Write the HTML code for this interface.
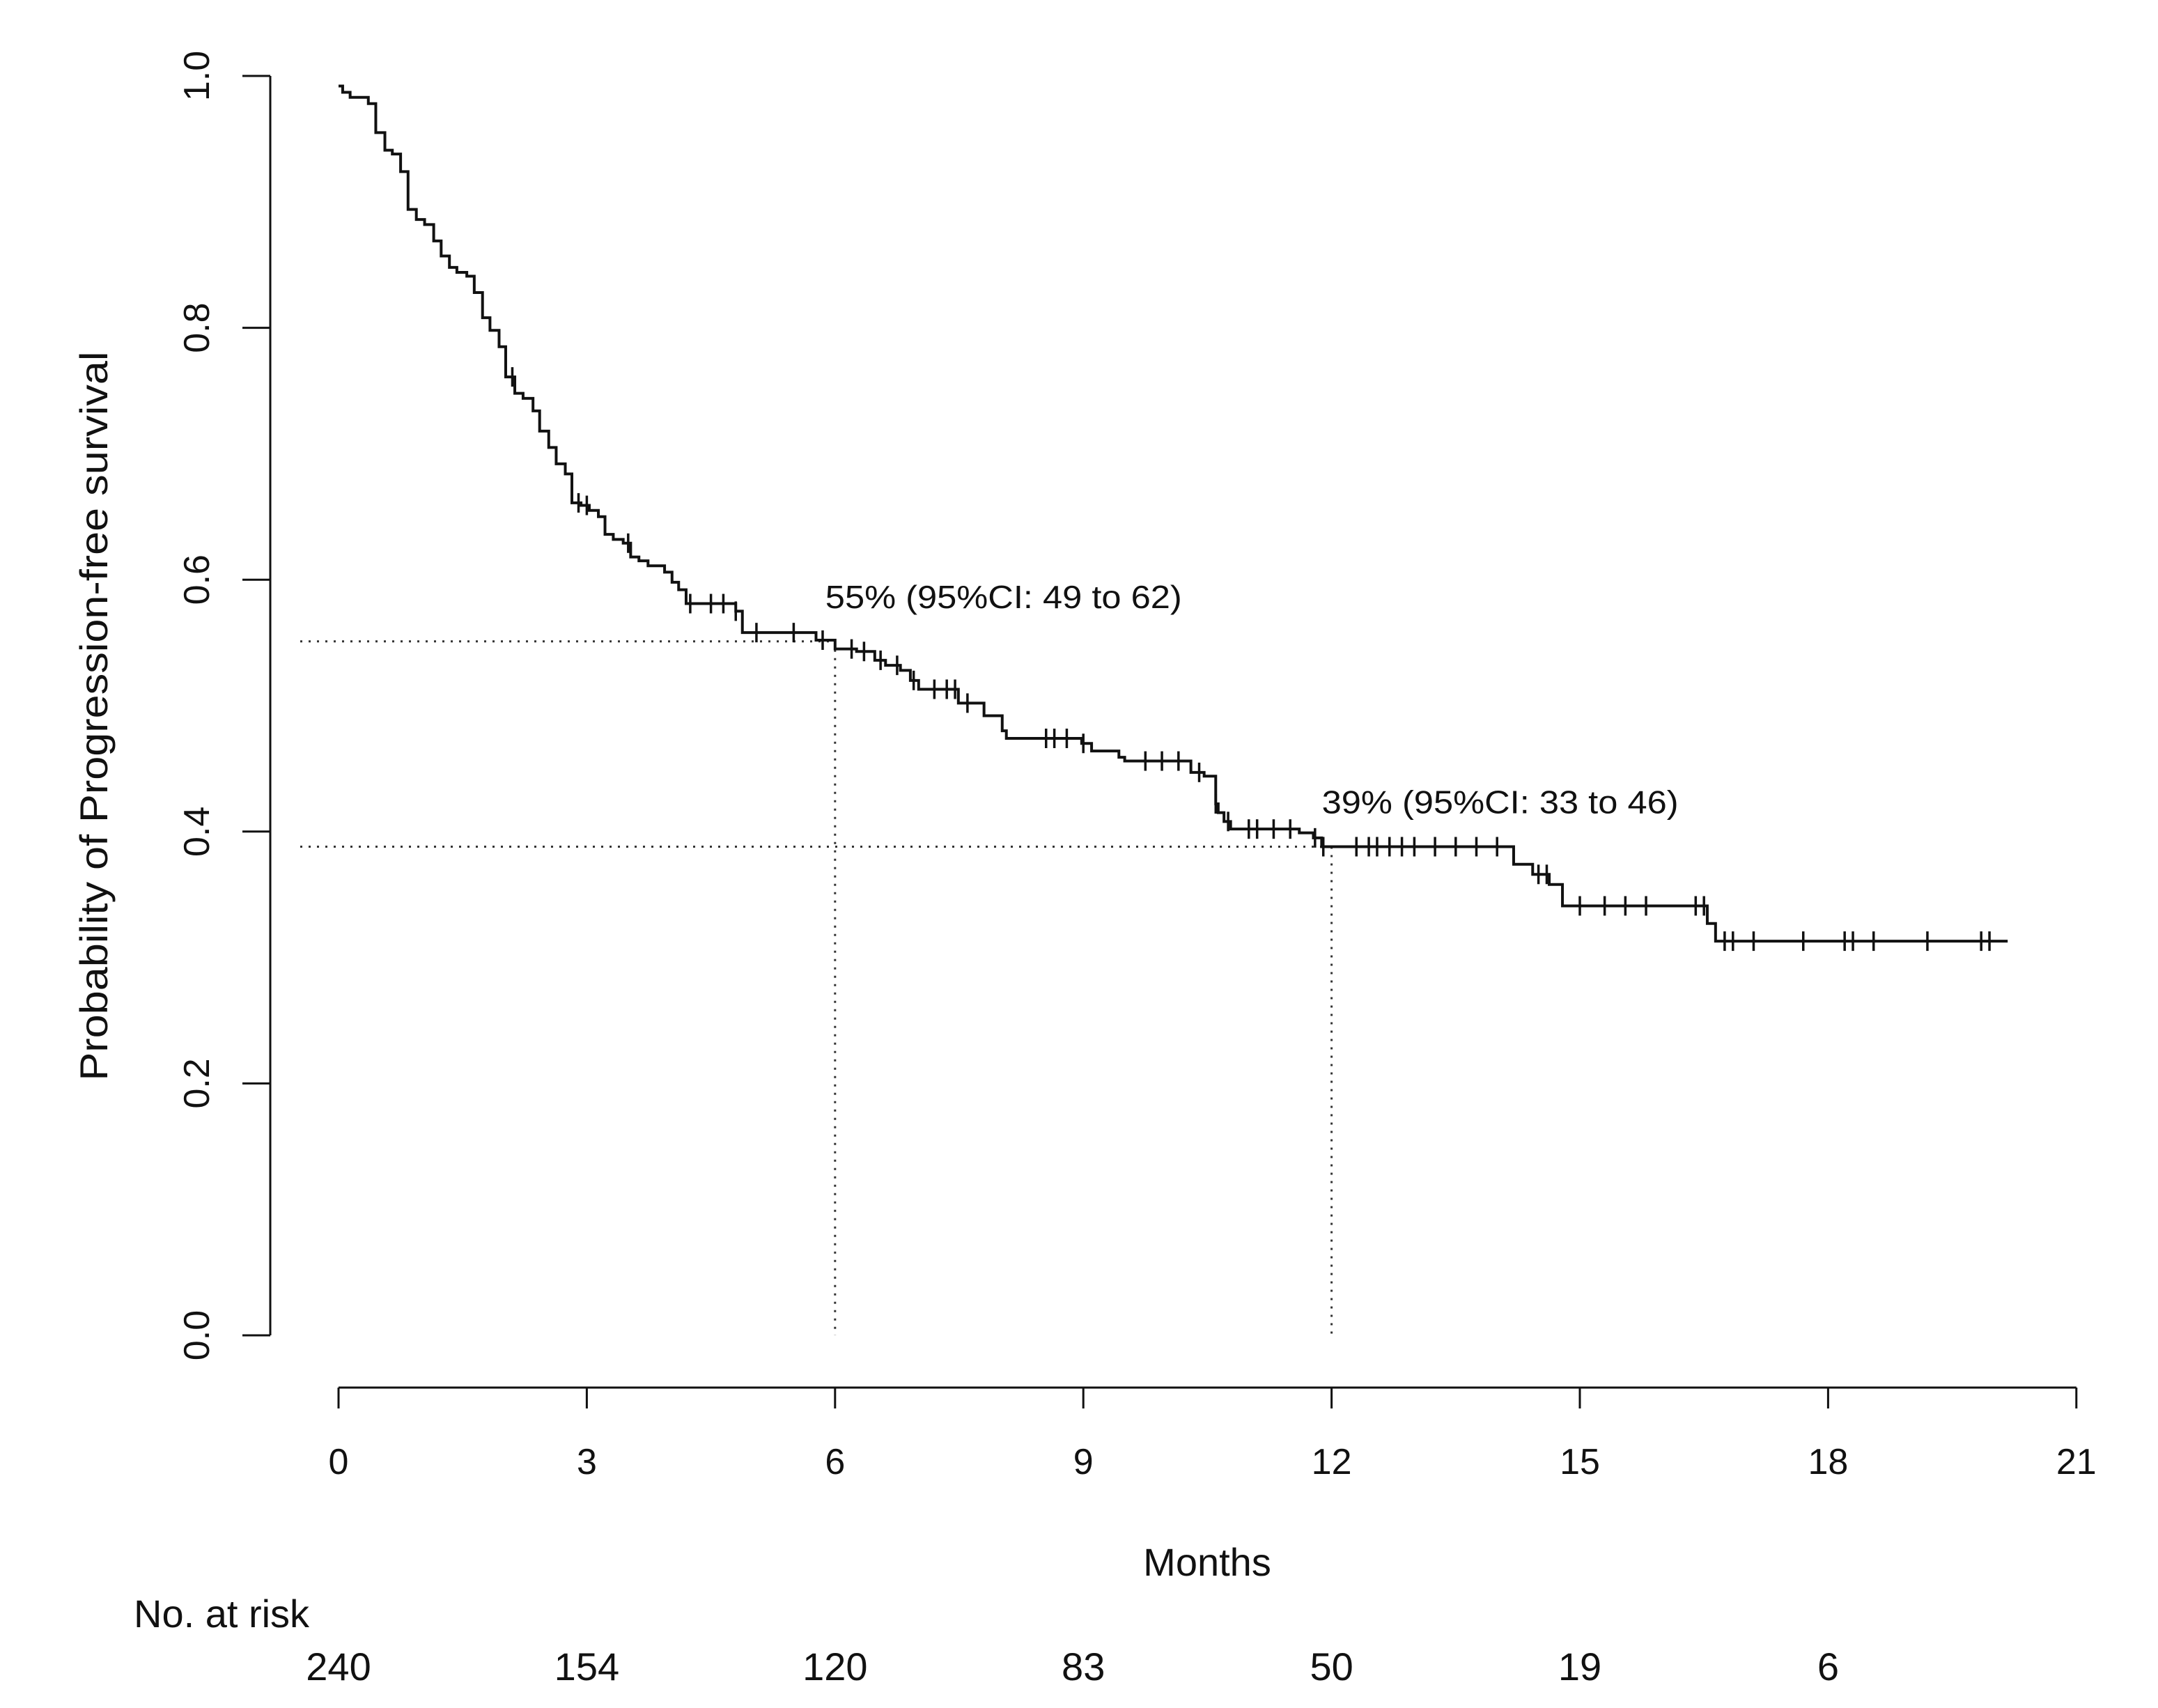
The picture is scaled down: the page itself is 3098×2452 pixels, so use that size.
<!DOCTYPE html>
<html><head><meta charset="utf-8"><style>
html,body{margin:0;padding:0;background:#fff}
svg{display:block}
text{font-family:"Liberation Sans",sans-serif;fill:#111}
</style></head><body>
<svg id="chart" width="3098" height="2452" viewBox="0 0 3098 2452" xmlns="http://www.w3.org/2000/svg">
<rect x="0" y="0" width="3098" height="2452" fill="#fff"/>
<g id="axes"></g>
<g id="guides"></g>
<g id="curve"></g>
<g id="labels"></g>
</svg>
<script>
const stepTimes=[0,0.05,0.14,0.36,0.45,0.56,0.65,0.75,0.84,0.94,1.04,1.15,1.24,1.34,1.43,1.55,1.64,1.74,1.83,1.94,2.02,2.13,2.23,2.35,2.43,2.54,2.63,2.74,2.82,2.93,3.03,3.14,3.22,3.32,3.44,3.53,3.63,3.74,3.94,4.03,4.11,4.2,4.8,4.88,5.77,6.0,6.26,6.48,6.61,6.79,6.91,7.01,7.49,7.8,8.02,8.07,8.98,9.1,9.43,9.5,10.3,10.46,10.6,10.63,10.7,10.78,11.61,11.78,11.88,14.2,14.43,14.63,14.79,16.54,16.64];
const stepVals=[0.992,0.987,0.983,0.978,0.955,0.941,0.938,0.924,0.894,0.886,0.882,0.869,0.857,0.848,0.844,0.841,0.828,0.808,0.798,0.785,0.761,0.748,0.744,0.734,0.718,0.705,0.692,0.684,0.661,0.659,0.655,0.65,0.636,0.632,0.629,0.618,0.615,0.611,0.606,0.598,0.592,0.581,0.575,0.558,0.552,0.545,0.543,0.536,0.532,0.528,0.52,0.513,0.502,0.492,0.48,0.474,0.47,0.464,0.459,0.456,0.447,0.444,0.422,0.415,0.408,0.402,0.399,0.395,0.388,0.374,0.366,0.358,0.341,0.327,0.313];
const endTime=20.17;
const censorTimes=[2.1,2.9,3.0,3.5,4.25,4.5,4.65,4.8,5.05,5.5,5.85,6.2,6.35,6.55,6.75,6.95,7.2,7.35,7.45,7.6,8.55,8.65,8.8,9.0,9.75,9.95,10.15,10.4,10.6,10.75,11.0,11.1,11.3,11.5,11.8,11.9,12.3,12.45,12.55,12.7,12.85,13.0,13.25,13.5,13.75,14.0,14.5,14.6,15.0,15.3,15.55,15.8,16.4,16.5,16.75,16.85,17.1,17.7,18.2,18.3,18.55,19.2,19.85,19.95];
const xTicks=[0,3,6,9,12,15,18,21];
const yTicks=[0,0.2,0.4,0.6,0.8,1.0];
const yTickLabels=["0.0","0.2","0.4","0.6","0.8","1.0"];
const riskTimes=[0,3,6,9,12,15,18];
const riskCounts=[240,154,120,83,50,19,6];
const landmarkTimes=[6,12];
const landmarkVals=[0.551,0.388];
const landmarkLabels=["55% (95%CI: 49 to 62)","39% (95%CI: 33 to 46)"];

const NS="http://www.w3.org/2000/svg";
const X0=486,PXM=118.8,Y0=1917,PXS=1808;
const AXX=388, AXY=1992;
function sx(t){return X0+t*PXM;}
function sy(v){return Y0-v*PXS;}
function mk(tag,attrs,parent){const e=document.createElementNS(NS,tag);for(const k in attrs)e.setAttribute(k,attrs[k]);parent.appendChild(e);return e;}
function survAt(t){let v=stepVals[0];for(let i=0;i<stepTimes.length;i++){if(stepTimes[i]<=t)v=stepVals[i];}return v;}

const axes=document.getElementById('axes');
const guides=document.getElementById('guides');
const curve=document.getElementById('curve');
const labels=document.getElementById('labels');

let ya=mk('line',{x1:AXX,y1:sy(0),x2:AXX,y2:sy(1),stroke:'#111','stroke-width':3},axes);


yTicks.forEach((v,i)=>{
  let t=mk('line',{x1:AXX-40,y1:sy(v),x2:AXX,y2:sy(v),stroke:'#111','stroke-width':3},axes);
  
  
  let tx=mk('text',{x:300,y:sy(v),'font-size':52,'text-anchor':'middle',transform:'rotate(-90 300 '+sy(v)+')'},labels);
  tx.textContent=yTickLabels[i];
  
  
});
let xa=mk('line',{x1:sx(0),y1:AXY,x2:sx(21),y2:AXY,stroke:'#111','stroke-width':3},axes);


xTicks.forEach(m=>{
  let t=mk('line',{x1:sx(m),y1:AXY,x2:sx(m),y2:AXY+30,stroke:'#111','stroke-width':3},axes);
  
  
  let tx=mk('text',{x:sx(m),y:2116,'font-size':52,'text-anchor':'middle'},labels);
  tx.textContent=String(m);
  
  
});
landmarkTimes.forEach((t,i)=>{
  const v=landmarkVals[i];
  let h=mk('line',{x1:431,y1:sy(v),x2:sx(t),y2:sy(v),stroke:'#333','stroke-width':3,'stroke-dasharray':'3 9'},guides);
  
  
  let vl=mk('line',{x1:sx(t),y1:sy(v),x2:sx(t),y2:sy(0),stroke:'#333','stroke-width':3,'stroke-dasharray':'3 9'},guides);
  
  
  let tx=mk('text',{x:sx(t)-14,y:sy(v)-48,'font-size':46,textLength:512,lengthAdjust:'spacingAndGlyphs'},labels);
  tx.textContent=landmarkLabels[i];
  
  
});
let d='M'+sx(stepTimes[0])+' '+sy(stepVals[0]);
for(let i=1;i<stepTimes.length;i++){d+=' H'+sx(stepTimes[i])+' V'+sy(stepVals[i]);}
d+=' H'+sx(endTime);
let p=mk('path',{d:d,fill:'none',stroke:'#111','stroke-width':4},curve);


censorTimes.forEach(t=>{
  const v=survAt(t);
  let c=mk('line',{x1:sx(t),y1:sy(v)-14,x2:sx(t),y2:sy(v)+14,stroke:'#111','stroke-width':3.5},curve);
  
  
});
let yt=mk('text',{x:154,y:1028,'font-size':56,'text-anchor':'middle',transform:'rotate(-90 154 1028)',textLength:1047,lengthAdjust:'spacingAndGlyphs'},labels);
yt.textContent='Probability of Progression-free survival';


let xt=mk('text',{x:1733,y:2262,'font-size':56,'text-anchor':'middle'},labels);
xt.textContent='Months';


let nr=mk('text',{x:192,y:2336,'font-size':56},labels);
nr.textContent='No. at risk';


riskTimes.forEach((t,i)=>{
  let tx=mk('text',{x:sx(t),y:2412,'font-size':56,'text-anchor':'middle'},labels);
  tx.textContent=String(riskCounts[i]);
  
  
});
</script>
</body></html>
